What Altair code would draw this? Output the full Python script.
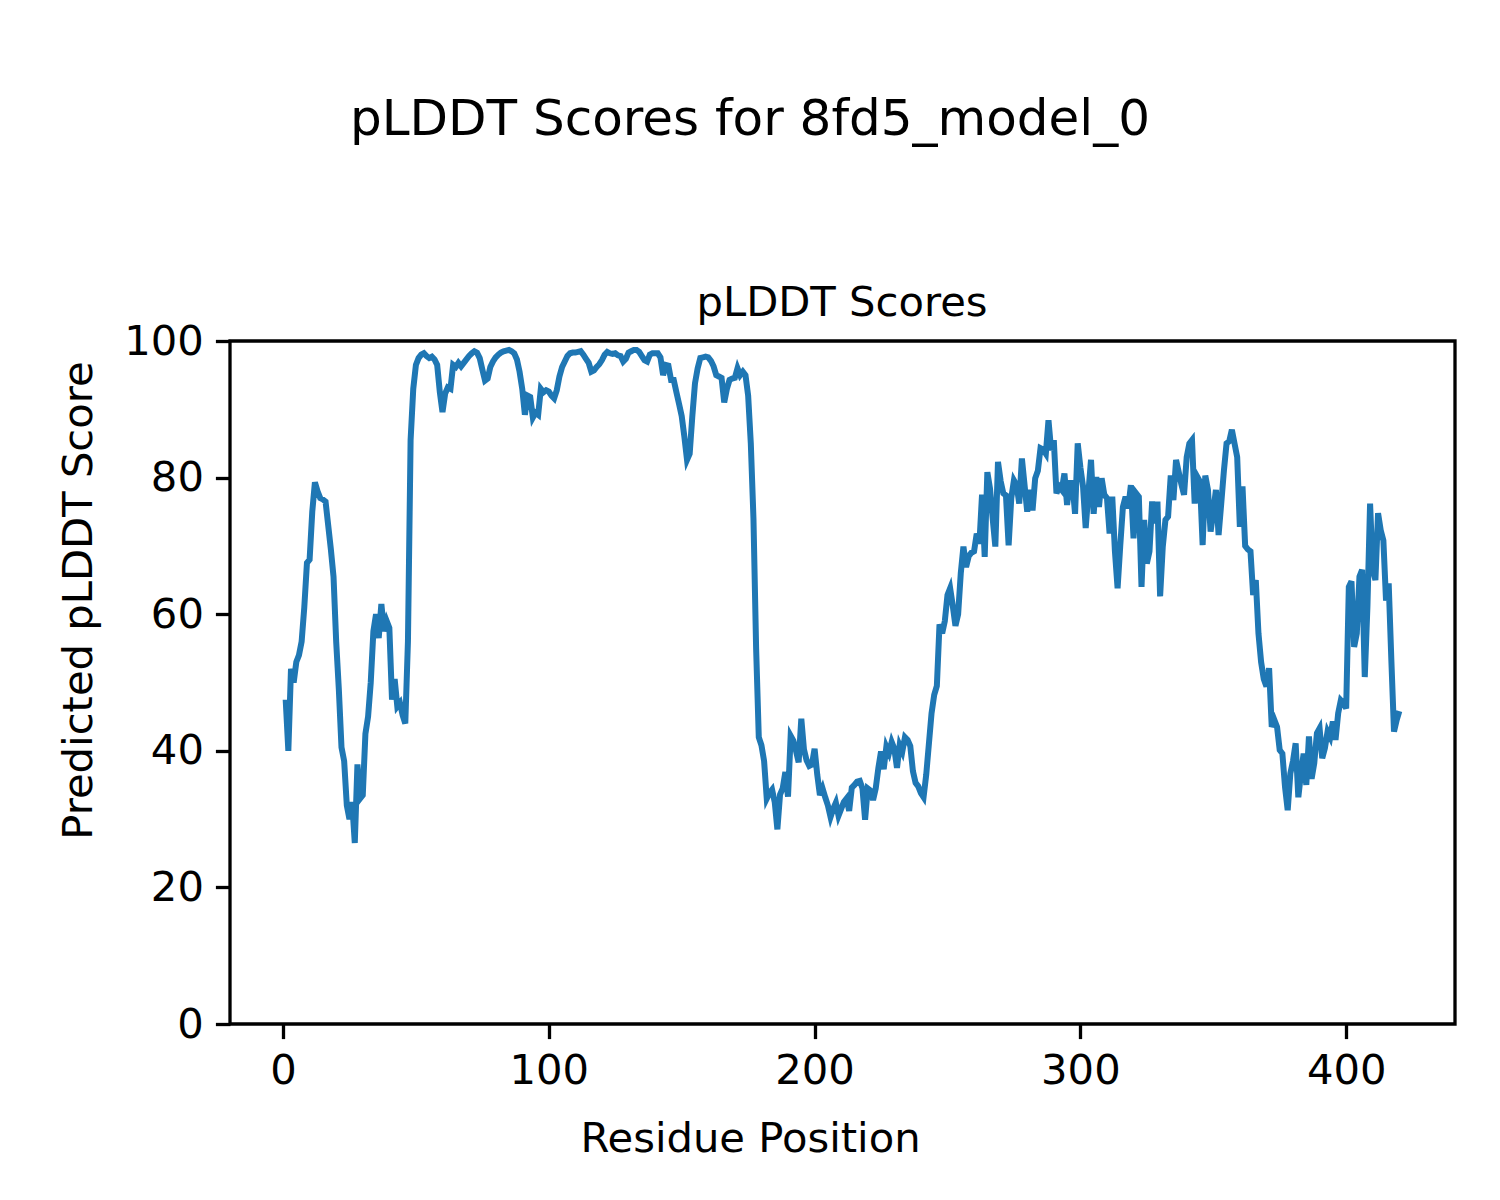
import altair as alt
import pandas as pd

SUPTITLE = "pLDDT Scores for 8fd5_model_0"
AX_TITLE = "pLDDT Scores"
X_LABEL = "Residue Position"
Y_LABEL = "Predicted pLDDT Score"
X_TICKS = [0, 100, 200, 300, 400]
Y_TICKS = [0, 20, 40, 60, 80, 100]

plddt = [
    47.5, 40, 52, 50, 53, 54, 56, 61, 67.5, 68,
    75, 79.3, 78, 77, 76.8, 76.5, 73, 69.5, 65.5, 56,
    49, 40.5, 38.5, 32, 30, 32.5, 26.5, 38, 33, 33.5,
    42.5, 45, 50, 57.5, 60, 56.5, 61.5, 57.5, 59, 58,
    47.5, 50.5, 46.5, 47, 45.2, 44, 56, 85.5, 93, 96.5,
    97.5, 98, 98.2, 97.8, 97.5, 97.7, 97.3, 96.5, 92.5, 89.6,
    92.3, 93.2, 93, 96.5, 96.2, 96.8, 96.3, 96.8, 97.3, 97.8,
    98.2, 98.5, 98.3, 97.5, 95.8, 94.2, 94.5, 96.2, 97, 97.6,
    98, 98.3, 98.5, 98.6, 98.7, 98.5, 98.2, 97.3, 95.5, 93,
    89.2, 92, 91.8, 88.8, 89.5, 89.2, 93, 92.5, 92.8, 92.6,
    92, 91.6, 92.8, 94.8, 96.2, 97, 97.8, 98.2, 98.3, 98.3,
    98.4, 98.5, 98, 97.4, 96.8, 95.5, 95.7, 96.2, 96.6, 97.2,
    98, 98.4, 98.2, 98.1, 98.2, 97.9, 97.8, 97, 97.4, 98.3,
    98.5, 98.7, 98.7, 98.4, 97.8, 97.2, 97, 98, 98.2, 98.2,
    98.2, 97.6, 95, 96.5, 96.4, 94.3, 94.3, 92.5, 90.8, 89,
    86, 82.6, 83.5, 89, 93.8, 96, 97.5, 97.6, 97.7, 97.6,
    97.1, 96.3, 95, 94.8, 94.6, 91, 93, 94.3, 94.5, 94.6,
    96, 95, 95.5, 95, 92, 85, 74, 55, 42, 40.8,
    38.5, 33, 33.8, 34.3, 32.5, 28.5, 33.6, 34.5, 36.9, 33.3,
    42.2, 41.5, 40, 38.3, 44.7, 40.2, 38.6, 37.8, 38, 40.3,
    36.5, 33.5, 34.5, 33.2, 32, 30.3, 31.5, 32.4, 30.5, 31.5,
    32.5, 33, 31.2, 34.6, 35, 35.5, 35.6, 34.5, 29.9, 34.5,
    34.2, 32.8, 34.5, 37.5, 39.9, 37.3, 40.6, 39.7, 41.3, 40.3,
    37.5, 40.8, 39.9, 42, 41.6, 40.7, 37, 35.3, 34.8, 33.8,
    33.2, 36.5, 41, 45.5, 48.2, 49.5, 58.5, 57.2, 59, 62.8,
    63.8, 61.2, 58.3, 60, 66, 69.9, 66.9, 68.5, 69, 69.2,
    71.8, 70.3, 77.5, 68.4, 80.8, 78.4, 74, 69.9, 82.3, 79.5,
    77.7, 77.4, 70.1, 77, 79.6, 78.9, 76.2, 82.8, 78.9, 75,
    78.2, 75.2, 79.9, 81, 84.3, 84.1, 83.5, 88.4, 84, 85.5,
    77.7, 78.7, 78.2, 80.6, 76, 79.2, 79.2, 74.7, 85, 81.5,
    78.7, 72.6, 77.7, 82.6, 74.7, 80.1, 75.7, 79.9, 77.5, 77,
    71.8, 77.2, 69.2, 63.8, 70, 75.7, 77.2, 75.5, 78.9, 71.1,
    77.7, 77.2, 64, 73.8, 67.4, 69.2, 76.5, 73.3, 76.5, 62.6,
    69.9, 73.8, 74.3, 80.3, 76.7, 82.6, 80.8, 79, 77.5, 83,
    85, 85.5, 76.2, 80.1, 79.4, 70.1, 80.3, 78.2, 72.1, 75,
    78.2, 71.6, 76.2, 81, 85, 85.3, 87, 85, 83, 72.8,
    78.7, 70, 69.5, 69.2, 62.8, 65, 57.2, 53, 50.5, 49.4,
    52.1, 43.5, 44.5, 43.5, 40.1, 39.6, 34.7, 31.3, 36.7, 38.5,
    41.1, 33.2, 36.7, 39.6, 35, 42.1, 35.9, 38.2, 42.6, 43.3,
    38.9, 40.4, 42.8, 42, 44.3, 41.6, 45.5, 47.4, 47, 46.2,
    64, 64.8, 55.2, 57.2, 65.5, 66.5, 50.8, 61.1, 76.2, 66.5,
    65, 74.8, 72.3, 70.8, 62, 64.5, 53.3, 42.8, 44.5, 45.8,
]
residues = list(range(1, len(plddt) + 1))

df = pd.DataFrame({"residue": residues, "plddt": plddt})

FONT = "DejaVu Sans"
FS = 41.7

line = alt.Chart(df).mark_line(color="#1f77b4", strokeWidth=6).encode(
    x=alt.X("residue:Q",
            scale=alt.Scale(domain=[-19.95, 440.95], nice=False, zero=False),
            axis=alt.Axis(values=X_TICKS, title=X_LABEL, format="d",
                          titleX=520, titleY=114, titleAlign="center",
                          titleBaseline="middle")),
    y=alt.Y("plddt:Q",
            scale=alt.Scale(domain=[0, 100], nice=False, zero=False),
            axis=alt.Axis(values=Y_TICKS, title=Y_LABEL, format="d",
                          titleX=-152, titleY=259, titleAlign="center",
                          titleBaseline="middle", titleAngle=270)),
)

titles = pd.DataFrame({"t": [SUPTITLE, AX_TITLE], "size": [50, FS]})

sup = alt.Chart(titles).transform_filter(alt.datum.t == SUPTITLE).mark_text(
    font=FONT, fontSize=50, color="black", align="center", baseline="middle"
).encode(text="t:N", x=alt.value(520), y=alt.value(-221))

axt = alt.Chart(titles).transform_filter(alt.datum.t == AX_TITLE).mark_text(
    font=FONT, fontSize=FS, color="black", align="center", baseline="middle"
).encode(text="t:N", x=alt.value(612), y=alt.value(-38))

chart = alt.layer(line, sup, axt).properties(
    width=1225,
    height=683,
    autosize=alt.AutoSizeParams(type="none"),
    padding={"left": 222, "top": 333, "right": 37, "bottom": 160},
).configure_view(
    stroke="black", strokeWidth=3.3
).configure_axis(
    domain=False,
    grid=False,
    ticks=True,
    tickSize=14.6,
    tickWidth=3.3,
    tickColor="black",
    labelFont=FONT,
    labelFontSize=FS,
    labelColor="black",
    labelPadding=12,
    titleFont=FONT,
    titleFontSize=FS,
    titleFontWeight="normal",
    titleColor="black",
)

chart.save("out.html", embed_options={"renderer": "svg", "actions": False})
